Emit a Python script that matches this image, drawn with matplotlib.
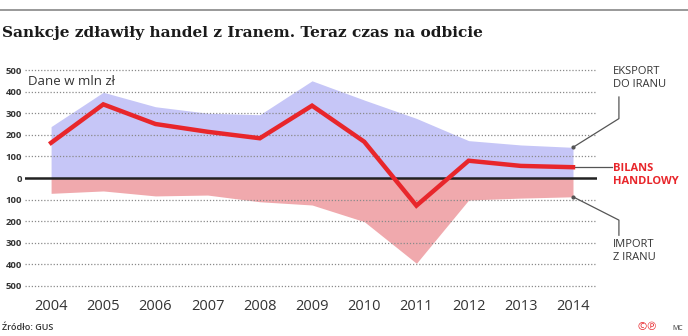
import matplotlib.pyplot as plt
from matplotlib.lines import Line2D

# dane (mln zł)
lata = [2004, 2005, 2006, 2007, 2008, 2009, 2010, 2011, 2012, 2013, 2014]
eksport = [238, 397, 330, 300, 293, 450, 361, 276, 173, 153, 142]
import_ = [71, 60, 83, 79, 110, 125, 202, 395, 102, 93, 87]
bilans = [163, 341, 250, 214, 184, 335, 168, -128, 80, 56, 50]
yticks = [500, 400, 300, 200, 100, 0, -100, -200, -300, -400, -500]

plt.rcParams['font.family'] = ['Open Sans', 'DejaVu Sans']

fig = plt.figure(figsize=(6.88, 3.36), dpi=100)
ax = fig.add_axes([25 / 688, (336 - 290.3) / 336, 572 / 688, 224.6 / 336])

blue = '#c6c6f7'
pink = '#f0a9ad'
red = '#e8262b'

ax.fill_between(lata, 0, eksport, color=blue, lw=0, zorder=1)
ax.fill_between(lata, 0, [-v for v in import_], color=pink, lw=0, zorder=1)
ax.plot(lata, bilans, color=red, lw=3.2, solid_joinstyle='miter', zorder=4)
ax.axhline(0, color='#222222', lw=1.8, zorder=3)

for v in yticks:
    if v != 0:
        ax.axhline(v, color='#8a8a8a', lw=0.9, ls=(0, (1, 1.5)), zorder=2)

ax.set_xlim(2003.5, 2014.46)
ax.set_ylim(-520, 520)
ax.set_xticks(lata)
ax.set_xticklabels([str(r) for r in lata], fontsize=10.5, color='#333333')
ax.set_yticks(yticks)
ax.set_yticklabels([str(abs(v)) for v in yticks], fontsize=6.8, fontweight='bold',
                   color='#333333')
ax.tick_params(length=0)
ax.tick_params(axis='y', pad=2)
ax.tick_params(axis='x', pad=6)
for s in ax.spines.values():
    s.set_visible(False)

ax.text(2003.55, 445, 'Dane w mln zł', fontsize=9.5, color='#333333', va='center')

# opisy po prawej
lc = '#555555'
ax.add_line(Line2D([2014, 2014.88, 2014.88], [142, 275, 375], color=lc, lw=0.9,
                   clip_on=False))
ax.plot([2014], [142], 'o', color=lc, ms=2, clip_on=False, zorder=5)
ax.add_line(Line2D([2014, 2014.75], [50, 50], color=lc, lw=0.9, clip_on=False))
ax.add_line(Line2D([2014, 2014.88, 2014.88], [-87, -195, -265], color=lc, lw=0.9,
                   clip_on=False))
ax.plot([2014], [-87], 'o', color=lc, ms=2, clip_on=False, zorder=5)

fig.text(613 / 688, 1 - 78 / 336, 'EKSPORT\nDO IRANU', fontsize=8, color='#333333',
         va='center', ha='left', linespacing=1.2)
fig.text(613 / 688, 1 - 175 / 336, 'BILANS\nHANDLOWY', fontsize=8, color=red,
         fontweight='bold', va='center', ha='left', linespacing=1.2)
fig.text(613 / 688, 1 - 251 / 336, 'IMPORT\nZ IRANU', fontsize=8, color='#333333',
         va='center', ha='left', linespacing=1.2)

# tytuł i linia na górze
fig.add_artist(Line2D([0, 1], [1 - 10 / 336, 1 - 10 / 336], color='#888888', lw=1.2))
fig.text(2 / 688, 1 - 33 / 336, 'Sankcje zdławiły handel z Iranem. Teraz czas na odbicie',
         fontsize=11.1, fontweight='bold', family=['DejaVu Serif'],
         color='#1a1a1a', va='center', ha='left')

# stopka
fig.text(2 / 688, 1 - 327 / 336, 'Źródło: GUS', fontsize=6.5, color='#333333',
         fontweight='semibold', va='center', ha='left')
fig.text(648 / 688, 1 - 327 / 336, '©℗', fontsize=8, color=red, va='center', ha='center')
fig.text(678 / 688, 1 - 328 / 336, 'MC', fontsize=5, color='#333333', va='center',
         ha='center')

fig.savefig('out.png', dpi=100)
